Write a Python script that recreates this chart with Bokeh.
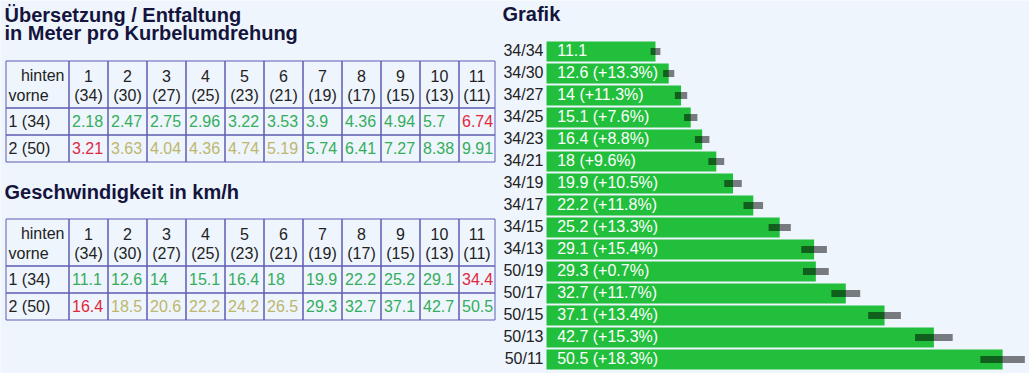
from bokeh.plotting import figure
from bokeh.models import Range1d, ColumnDataSource
from bokeh.embed import file_html
from bokeh.resources import INLINE
from bokeh.core.properties import value

# ---------------- data ----------------
rear_cogs = [34, 30, 27, 25, 23, 21, 19, 17, 15, 13, 11]
front_rings = [34, 50]
development = [
    [2.18, 2.47, 2.75, 2.96, 3.22, 3.53, 3.9, 4.36, 4.94, 5.7, 6.74],
    [3.21, 3.63, 4.04, 4.36, 4.74, 5.19, 5.74, 6.41, 7.27, 8.38, 9.91],
]
speed_kmh = [
    [11.1, 12.6, 14, 15.1, 16.4, 18, 19.9, 22.2, 25.2, 29.1, 34.4],
    [16.4, 18.5, 20.6, 22.2, 24.2, 26.5, 29.3, 32.7, 37.1, 42.7, 50.5],
]
# chain-line rating of each combination: g = good, y = tolerable, r = avoid
rating = [
    ["g", "g", "g", "g", "g", "g", "g", "g", "g", "g", "r"],
    ["r", "y", "y", "y", "y", "y", "g", "g", "g", "g", "g"],
]
gear_labels = ["34/34", "34/30", "34/27", "34/25", "34/23", "34/21", "34/19", "34/17",
               "34/15", "34/13", "50/19", "50/17", "50/15", "50/13", "50/11"]
gear_speed = [11.1, 12.6, 14, 15.1, 16.4, 18, 19.9, 22.2, 25.2, 29.1, 29.3, 32.7, 37.1, 42.7, 50.5]
gear_step = [None, 13.3, 11.3, 7.6, 8.8, 9.6, 10.5, 11.8, 13.3, 15.4, 0.7, 11.7, 13.4, 15.3, 18.3]

# ---------------- style ----------------
W, H = 1029, 373
BG = "#eef5fd"
BORDER = "#5d5db3"
TXT = "#222222"
TITLE = "#14143c"
RATE_COLORS = {"g": "#35ad5c", "y": "#bdb76b", "r": "#e0283c"}
BAR_GREEN = "#21bf3b"
FONT = value("Liberation Sans")

p = figure(width=W, height=H, output_backend="svg", toolbar_location=None,
           x_range=Range1d(0, W), y_range=Range1d(H, 0),
           x_axis_location=None, y_axis_location=None, min_border=0,
           background_fill_color=BG, border_fill_color=BG, outline_line_color=None)
p.grid.visible = False

# extra ranges for the bar chart: value axis and row axis
PX_ORIGIN, PX_PER_KMH = 557.2, 8.81
p.extra_x_ranges["kmh"] = Range1d(-PX_ORIGIN / PX_PER_KMH, (W - PX_ORIGIN) / PX_PER_KMH)
ROW0, ROW_PITCH = 51, 22
p.extra_y_ranges["rows"] = Range1d((H - ROW0) / ROW_PITCH, -ROW0 / ROW_PITCH)


def title(x, y, s):
    p.text(x=[x], y=[y], text=[s], text_font=FONT, text_font_size="20px",
           text_font_style="bold", text_color=TITLE, text_baseline="middle")


title(4, 14, "Übersetzung / Entfaltung")
title(4, 32.5, "in Meter pro Kurbelumdrehung")
title(4, 191.5, "Geschwindigkeit in km/h")
title(502, 13, "Grafik")

# ---------------- tables ----------------
X0, FIRST_W, COL_W, LAST_W = 5, 63, 39, 36
HEADER_H, ROW_H = 47, 27
col_w = [FIRST_W] + [COL_W] * (len(rear_cogs) - 1) + [LAST_W]
edges = [X0]
for w in col_w:
    edges.append(edges[-1] + w)


def draw_table(top, values):
    row_edges = [top, top + HEADER_H] + [top + HEADER_H + ROW_H * (k + 1) for k in range(len(front_rings))]
    lefts, rights, tops, bottoms = [], [], [], []
    for r in range(len(row_edges) - 1):
        for c in range(len(col_w)):
            lefts.append(edges[c] + 0.5)
            rights.append(edges[c + 1] + 0.5)
            tops.append(row_edges[r] + 0.5)
            bottoms.append(row_edges[r + 1] + 0.5)
    p.quad(left=lefts, right=rights, top=tops, bottom=bottoms,
           fill_color=None, line_color=BORDER, line_width=1)
    tx = dict(text_font=FONT, text_font_size="16px", text_baseline="middle")
    l1, l2 = top + 15, top + 34.5
    p.text(x=[edges[1] - 4], y=[l1], text=["hinten"], text_align="right", text_color=TXT, **tx)
    p.text(x=[X0 + 3], y=[l2], text=["vorne"], text_align="left", text_color=TXT, **tx)
    centers = [(edges[c] + edges[c + 1]) / 2 + 0.5 for c in range(1, len(col_w))]
    p.text(x=centers, y=[l1] * len(centers), text=[str(k + 1) for k in range(len(rear_cogs))],
           text_align="center", text_color=TXT, **tx)
    p.text(x=centers, y=[l2] * len(centers), text=[f"({c})" for c in rear_cogs],
           text_align="center", text_color=TXT, **tx)
    xs, ys, ts, cs = [], [], [], []
    for r, ring in enumerate(front_rings):
        mid = top + HEADER_H + ROW_H * r + 13.5
        p.text(x=[X0 + 3], y=[mid], text=[f"{r + 1} ({ring})"], text_align="left",
               text_color=TXT, **tx)
        for c, v in enumerate(values[r]):
            xs.append(edges[c + 1] + 3.5)
            ys.append(mid)
            ts.append(f"{v:g}")
            cs.append(RATE_COLORS[rating[r][c]])
    p.text(x=xs, y=ys, text=ts, text_color=cs, text_align="left", **tx)


draw_table(60, development)
draw_table(218, speed_kmh)

# ---------------- bar chart ----------------
BAR_LEFT = -1.27
SPREAD = 0.05
idx = list(range(len(gear_labels)))
bar_text = [f"{v:g}" + (f" (+{s:g}%)" if s is not None else "") for v, s in zip(gear_speed, gear_step)]
src = ColumnDataSource(dict(
    i=idx, v=gear_speed, lab=gear_labels, txt=bar_text,
    lo=[v * (1 - SPREAD) for v in gear_speed], hi=[v * (1 + SPREAD) for v in gear_speed],
))
p.hbar(y="i", left=BAR_LEFT, right="v", height=20 / ROW_PITCH, source=src,
       fill_color=BAR_GREEN, line_color=None, x_range_name="kmh", y_range_name="rows")
p.hbar(y="i", left="lo", right="hi", height=7 / ROW_PITCH, source=src,
       fill_color="black", fill_alpha=0.5, line_color=None, x_range_name="kmh", y_range_name="rows")
p.text(x=BAR_LEFT, y="i", text="lab", source=src, x_offset=-3, y_offset=-1.5,
       text_align="right", text_baseline="middle", text_font=FONT, text_font_size="16px",
       text_color=TXT, x_range_name="kmh", y_range_name="rows")
p.text(x=0, y="i", text="txt", source=src, x_offset=-0.5, y_offset=-1.5,
       text_align="left", text_baseline="middle", text_font=FONT, text_font_size="16px",
       text_color="white", x_range_name="kmh", y_range_name="rows")

open("out.html", "w").write(file_html(p, INLINE))
